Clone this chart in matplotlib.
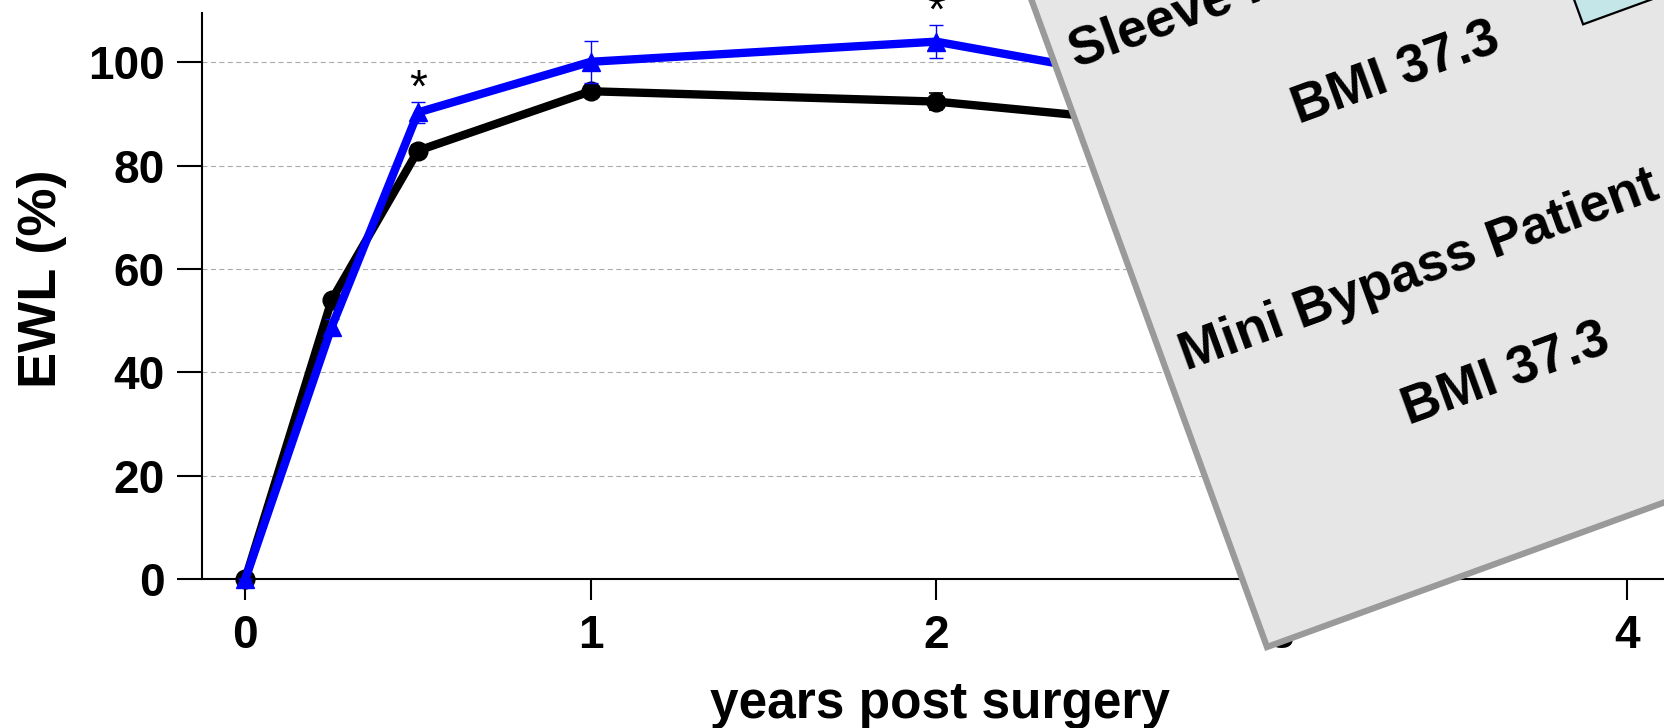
import numpy as np
import matplotlib
matplotlib.use('Agg')
import matplotlib.pyplot as plt
from matplotlib.patches import Polygon

# data
years = [0, 0.25, 0.5, 1, 2, 3]
sleeve_ewl = [0, 54.0, 82.9, 94.4, 92.4, 86.0]
sleeve_err = [0, 1.0, 1.0, 1.0, 1.6, 1.5]
bypass_ewl = [0, 48.8, 90.3, 100.1, 104.0, 92.0]
bypass_err = [0, 1.5, 2.0, 4.1, 3.2, 3.0]
star_years = [0.5, 2]

x_ticks = [0, 1, 2, 3, 4]
y_ticks = [0, 20, 40, 60, 80, 100]

legend_names = ['Sleeve Patient', 'Mini Bypass Patient']
legend_bmi = ['BMI 37.3', 'BMI 37.3']

W, H = 1665, 728
FONT = 'Liberation Sans'

fig = plt.figure(figsize=(W / 100, H / 100), dpi=100)
ax = fig.add_axes([201.8 / W, 149 / H, 1477 / W, 566.3 / H])

# dashed horizontal grid
ax.grid(True, axis='y', linestyle=(0, (4.5, 3.1)), linewidth=0.8, color='#aaaaaa')
ax.set_axisbelow(True)

ax.errorbar(years, sleeve_ewl, yerr=sleeve_err, color='black', lw=6, marker='o',
            ms=13.5, elinewidth=1.2, capsize=5, capthick=1.2, clip_on=False, zorder=3)
ax.errorbar(years, bypass_ewl, yerr=bypass_err, color='#0000ff', lw=6, marker='^',
            ms=13.5, elinewidth=1.0, capsize=5, capthick=1.0, clip_on=False, zorder=4)

# significance stars
for xs in star_years:
    i = years.index(xs)
    ax.text(xs, bypass_ewl[i] + bypass_err[i], '*', ha='center', va='baseline',
            fontsize=33, family=FONT, color='black', zorder=5)

ax.set_xlim(-0.126, 4.15)
ax.set_ylim(0, 109.6)
ax.set_xticks(x_ticks)
ax.set_yticks(y_ticks)

for s in ['top', 'right']:
    ax.spines[s].set_visible(False)
for s in ['left', 'bottom']:
    ax.spines[s].set_linewidth(1.5)

ax.tick_params(axis='x', length=15, width=1.5, pad=10)
ax.tick_params(axis='y', length=18, width=1.5, pad=8.6)
for lab in ax.get_xticklabels() + ax.get_yticklabels():
    lab.set_fontfamily(FONT)
    lab.set_fontweight('bold')
    lab.set_fontsize(33)

ax.set_xlabel('years post surgery', family=FONT, fontweight='bold', fontsize=37, labelpad=16)
ax.set_ylabel('EWL (%)', family=FONT, fontweight='bold', fontsize=39)
ax.yaxis.set_label_coords(-0.0913, 0.531)

# rotated legend card laid over the right side, in pixel coordinates
ov = fig.add_axes([0, 0, 1, 1])
ov.set_xlim(0, W)
ov.set_ylim(H, 0)
ov.axis('off')

ANGLE = 20
corner = np.array([1267.0, 647.0])
a = np.deg2rad(ANGLE)
e_u = np.array([np.cos(a), -np.sin(a)])
e_v = np.array([-np.sin(a), -np.cos(a)])


def to_img(u, v):
    return corner + u * e_u + v * e_v


card = Polygon([to_img(0, 0), to_img(720, 0), to_img(720, 820), to_img(0, 820)],
               closed=True, fc='#e6e6e6', ec='#9a9a9a', lw=4.5, joinstyle='miter')
ov.add_patch(card)

swatch = Polygon([to_img(510, 477), to_img(620, 477), to_img(620, 540), to_img(510, 540)],
                 closed=True, fc='#c4e6e8', ec='black', lw=1.6)
ov.add_patch(swatch)

name_v = [610, 287]
bmi_v = [480, 160]
for name, bmi, nv, bv in zip(legend_names, legend_bmi, name_v, bmi_v):
    ov.text(*to_img(19, nv), name, rotation=ANGLE, rotation_mode='anchor',
            ha='left', va='baseline', family=FONT, fontweight='bold', fontsize=38.5)
    ov.text(*to_img(209, bv), bmi, rotation=ANGLE, rotation_mode='anchor',
            ha='left', va='baseline', family=FONT, fontweight='bold', fontsize=38.5)

fig.savefig('out.png', dpi=100)
